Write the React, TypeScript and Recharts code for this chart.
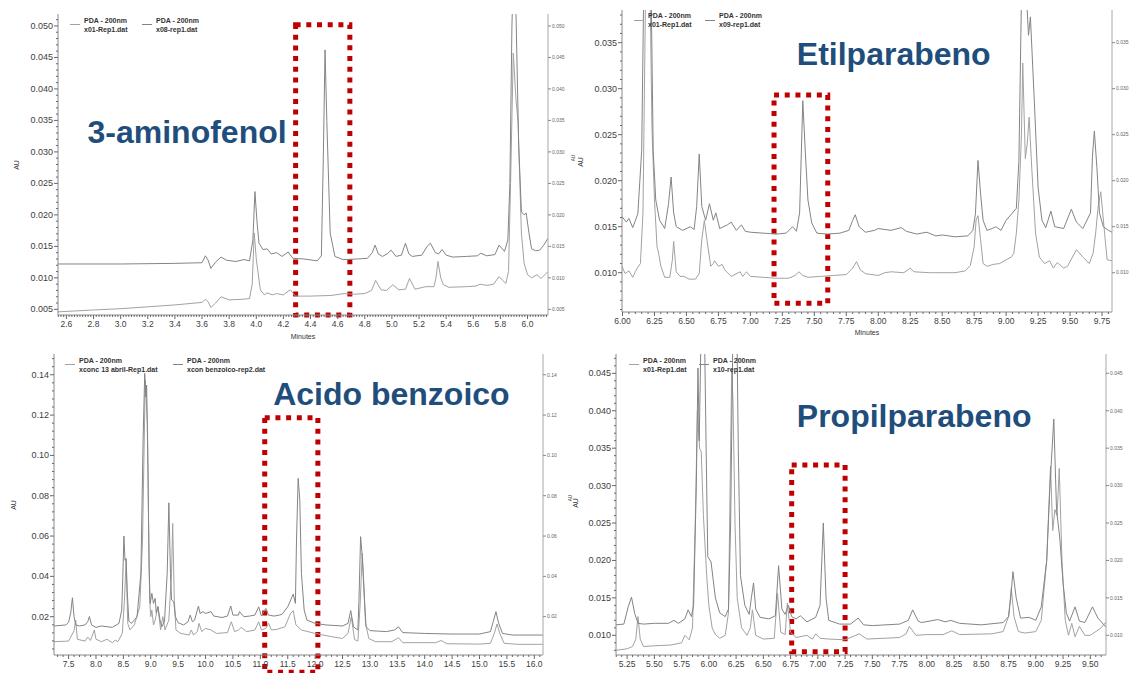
import { LineChart, Line, XAxis, YAxis, ReferenceArea, Legend } from "recharts";

type Pt = [number, number];

const FONT = '"Liberation Sans", Arial, sans-serif';
const TITLE_BLUE = "#1f4e7c";
const MARK_RED = "#c00000";
const GREY_UPPER = "#848484";
const GREY_LOWER = "#a2a2a2";
const AXIS = "#8a8a8a";
const FRAME = "#c4c4c4";

// ---------- 3-aminofenol (top left) ----------
const aminoXTicks = [2.6, 2.8, 3.0, 3.2, 3.4, 3.6, 3.8, 4.0, 4.2, 4.4, 4.6, 4.8, 5.0, 5.2, 5.4, 5.6, 5.8, 6.0];
const aminoYTicks = [0.005, 0.01, 0.015, 0.02, 0.025, 0.03, 0.035, 0.04, 0.045, 0.05];
const aminoNames = ["x01-Rep1.dat", "x08-rep1.dat"];
const aminoLower: Pt[] = [
  [2.538, 0.0046], [2.8, 0.0049], [3.0, 0.0051], [3.2, 0.0054], [3.4, 0.0057], [3.6, 0.0061], [3.625, 0.0066],
  [3.645, 0.0062], [3.665, 0.0053], [3.7, 0.006], [3.74, 0.007], [3.8, 0.0065], [3.9, 0.0066], [3.95, 0.0067],
  [3.97, 0.009], [3.985, 0.0171], [4.0, 0.013], [4.03, 0.0081], [4.06, 0.0073], [4.08, 0.0076], [4.12, 0.0073],
  [4.15, 0.0075], [4.2, 0.0073], [4.25, 0.0081], [4.29, 0.0071], [4.4, 0.0071], [4.55, 0.0072], [4.65, 0.0075],
  [4.72, 0.0074], [4.8, 0.0075], [4.85, 0.008], [4.88, 0.0096], [4.92, 0.0081], [4.96, 0.008], [5.007, 0.0089],
  [5.05, 0.0081], [5.1, 0.0082], [5.13, 0.0099], [5.17, 0.0082], [5.25, 0.0086], [5.31, 0.0086], [5.325, 0.01],
  [5.34, 0.0126], [5.36, 0.01], [5.38, 0.0089], [5.42, 0.0085], [5.55, 0.0086], [5.62, 0.0087], [5.65, 0.009],
  [5.7, 0.0088], [5.75, 0.009], [5.79, 0.0102], [5.84, 0.0091], [5.86, 0.011], [5.875, 0.025], [5.895, 0.0457],
  [5.915, 0.0383], [5.93, 0.0348], [5.955, 0.0171], [5.975, 0.0123], [6.0, 0.0105], [6.03, 0.01], [6.07, 0.0105],
  [6.1, 0.0099], [6.151, 0.011],
];
const aminoUpper: Pt[] = [
  [2.538, 0.0122], [3.0, 0.0122], [3.4, 0.0123], [3.6, 0.0124], [3.625, 0.0135], [3.645, 0.0128], [3.665, 0.0115],
  [3.7, 0.0125], [3.74, 0.0133], [3.78, 0.0128], [3.85, 0.0126], [3.91, 0.0129], [3.95, 0.0127], [3.975, 0.016],
  [3.99, 0.0237], [4.005, 0.019], [4.02, 0.0155], [4.05, 0.0145], [4.08, 0.0146], [4.11, 0.0138], [4.15, 0.014],
  [4.19, 0.0134], [4.235, 0.0141], [4.27, 0.0131], [4.35, 0.013], [4.45, 0.0127], [4.48, 0.0135], [4.495, 0.03],
  [4.507, 0.0462], [4.52, 0.035], [4.545, 0.0171], [4.58, 0.0134], [4.64, 0.0129], [4.75, 0.013], [4.82, 0.0131],
  [4.855, 0.014], [4.876, 0.0152], [4.9, 0.0138], [4.93, 0.0134], [4.965, 0.0138], [4.994, 0.0144], [5.03, 0.0134],
  [5.07, 0.0136], [5.1, 0.0155], [5.125, 0.0138], [5.15, 0.0134], [5.22, 0.0136], [5.26, 0.015], [5.284, 0.0155],
  [5.32, 0.014], [5.345, 0.0138], [5.37, 0.0145], [5.4, 0.0136], [5.45, 0.0133], [5.55, 0.0134], [5.63, 0.0135],
  [5.655, 0.0139], [5.7, 0.0135], [5.76, 0.0137], [5.79, 0.0152], [5.83, 0.0142], [5.855, 0.016], [5.87, 0.025],
  [5.885, 0.05], [5.9, 0.062], [5.915, 0.052], [5.935, 0.031], [5.955, 0.0205], [5.975, 0.02], [5.99, 0.0203],
  [6.01, 0.0172], [6.03, 0.0146], [6.06, 0.0143], [6.09, 0.0144], [6.12, 0.0152], [6.151, 0.0163],
];

// ---------- Etilparabeno (top right) ----------
const etilXTicks = [6.0, 6.25, 6.5, 6.75, 7.0, 7.25, 7.5, 7.75, 8.0, 8.25, 8.5, 8.75, 9.0, 9.25, 9.5, 9.75];
const etilYTicks = [0.01, 0.015, 0.02, 0.025, 0.03, 0.035];
const etilNames = ["x01-Rep1.dat", "x09-rep1.dat"];
const etilLower: Pt[] = [
  [5.996, 0.0107], [6.02, 0.0099], [6.05, 0.0102], [6.08, 0.0095], [6.1, 0.0101], [6.12, 0.0106], [6.14, 0.011],
  [6.16, 0.0165], [6.18, 0.04], [6.2, 0.06], [6.22, 0.036], [6.23, 0.0259], [6.25, 0.0179], [6.27, 0.0128],
  [6.28, 0.0123], [6.3, 0.0107], [6.33, 0.0095], [6.37, 0.0095], [6.39, 0.0114], [6.4, 0.0134], [6.42, 0.0101],
  [6.45, 0.0096], [6.48, 0.0096], [6.52, 0.0093], [6.57, 0.0093], [6.6, 0.0099], [6.62, 0.0136], [6.64, 0.0157],
  [6.66, 0.0136], [6.69, 0.0107], [6.71, 0.011], [6.72, 0.0113], [6.75, 0.0107], [6.78, 0.0109], [6.8, 0.0103],
  [6.85, 0.0096], [6.92, 0.0101], [6.94, 0.0096], [6.97, 0.0101], [7.0, 0.0096], [7.1, 0.0095], [7.2, 0.0094],
  [7.3, 0.0094], [7.35, 0.0097], [7.38, 0.0101], [7.41, 0.0097], [7.45, 0.0095], [7.55, 0.0096], [7.65, 0.0097],
  [7.75, 0.0098], [7.8, 0.0105], [7.83, 0.0112], [7.86, 0.0103], [7.9, 0.0099], [8.0, 0.0097], [8.05, 0.01],
  [8.1, 0.0101], [8.2, 0.01], [8.25, 0.0105], [8.28, 0.0101], [8.4, 0.01], [8.6, 0.01], [8.68, 0.0102],
  [8.72, 0.0108], [8.75, 0.0128], [8.765, 0.0157], [8.78, 0.0162], [8.8, 0.0136], [8.82, 0.011], [8.85, 0.0107],
  [8.9, 0.0109], [8.95, 0.011], [9.0, 0.0114], [9.04, 0.0117], [9.06, 0.0121], [9.08, 0.0143], [9.1, 0.0179],
  [9.12, 0.025], [9.13, 0.0328], [9.15, 0.0224], [9.165, 0.024], [9.18, 0.0269], [9.2, 0.0215], [9.23, 0.0143],
  [9.26, 0.0117], [9.3, 0.011], [9.34, 0.0113], [9.37, 0.0105], [9.4, 0.0111], [9.45, 0.0105], [9.48, 0.0107],
  [9.55, 0.0125], [9.6, 0.0117], [9.65, 0.011], [9.68, 0.0121], [9.7, 0.0143], [9.72, 0.0172], [9.74, 0.0188],
  [9.77, 0.0143], [9.79, 0.0114], [9.828, 0.0113],
];
const etilUpper: Pt[] = [
  [5.996, 0.0161], [6.03, 0.0155], [6.05, 0.0159], [6.08, 0.0149], [6.12, 0.0164], [6.15, 0.0233], [6.17, 0.045],
  [6.19, 0.06], [6.215, 0.05], [6.24, 0.0233], [6.26, 0.0179], [6.29, 0.0157], [6.33, 0.0148], [6.36, 0.0175],
  [6.38, 0.0204], [6.4, 0.0165], [6.42, 0.015], [6.47, 0.0146], [6.53, 0.015], [6.56, 0.0147], [6.58, 0.0172],
  [6.6, 0.0229], [6.62, 0.0172], [6.65, 0.0157], [6.68, 0.0175], [6.71, 0.0157], [6.73, 0.0165], [6.76, 0.0148],
  [6.82, 0.0152], [6.85, 0.0155], [6.89, 0.0146], [6.93, 0.0152], [6.96, 0.0145], [7.0, 0.0144], [7.1, 0.0143],
  [7.2, 0.0142], [7.28, 0.0143], [7.33, 0.015], [7.36, 0.0145], [7.385, 0.0165], [7.41, 0.0287], [7.43, 0.023],
  [7.45, 0.0179], [7.48, 0.0154], [7.52, 0.0143], [7.6, 0.0142], [7.7, 0.0143], [7.77, 0.0146], [7.8, 0.0157],
  [7.82, 0.0163], [7.85, 0.015], [7.9, 0.0144], [7.97, 0.0146], [8.0, 0.0148], [8.1, 0.0146], [8.18, 0.0149],
  [8.22, 0.0145], [8.3, 0.0142], [8.38, 0.0144], [8.45, 0.014], [8.5, 0.0141], [8.6, 0.0139], [8.7, 0.014],
  [8.74, 0.0146], [8.76, 0.0164], [8.78, 0.0222], [8.8, 0.0186], [8.82, 0.0157], [8.85, 0.0146], [8.89, 0.0148],
  [8.92, 0.015], [8.96, 0.0146], [9.0, 0.0157], [9.05, 0.0165], [9.08, 0.017], [9.1, 0.0222], [9.12, 0.04],
  [9.14, 0.045], [9.175, 0.0358], [9.19, 0.0378], [9.22, 0.0288], [9.25, 0.0193], [9.28, 0.0157], [9.31, 0.0149],
  [9.35, 0.0167], [9.38, 0.015], [9.45, 0.0148], [9.51, 0.0169], [9.55, 0.0155], [9.6, 0.0148], [9.66, 0.0165],
  [9.675, 0.0226], [9.69, 0.0254], [9.71, 0.0214], [9.73, 0.0165], [9.76, 0.015], [9.8, 0.0146], [9.828, 0.0144],
];

// ---------- Acido benzoico (bottom left) ----------
const benzXTicks = [7.5, 8.0, 8.5, 9.0, 9.5, 10.0, 10.5, 11.0, 11.5, 12.0, 12.5, 13.0, 13.5, 14.0, 14.5, 15.0, 15.5, 16.0];
const benzYTicks = [0.02, 0.04, 0.06, 0.08, 0.1, 0.12, 0.14];
const benzNames = ["xconc 13 abril-Rep1.dat", "xcon benzoico-rep2.dat"];
const benzLower: Pt[] = [
  [7.234, 0.0076], [7.5, 0.0079], [7.6, 0.013], [7.63, 0.0183], [7.66, 0.0088], [7.8, 0.0079], [7.85, 0.0099],
  [7.9, 0.0082], [7.97, 0.0134], [8.0, 0.0088], [8.1, 0.0076], [8.2, 0.0088], [8.3, 0.0071], [8.35, 0.0084],
  [8.4, 0.0076], [8.48, 0.0117], [8.52, 0.0282], [8.55, 0.0484], [8.58, 0.0167], [8.62, 0.0134], [8.7, 0.0159],
  [8.8, 0.025], [8.85, 0.058], [8.9, 0.1374], [8.94, 0.1159], [8.96, 0.0663], [8.98, 0.0282], [9.0, 0.02],
  [9.02, 0.0233], [9.05, 0.0159], [9.08, 0.0183], [9.13, 0.025], [9.18, 0.0134], [9.22, 0.02], [9.26, 0.0134],
  [9.33, 0.0183], [9.38, 0.0415], [9.4, 0.0663], [9.43, 0.0282], [9.46, 0.0134], [9.55, 0.0117], [9.7, 0.0109],
  [9.74, 0.0134], [9.78, 0.0109], [9.85, 0.0126], [9.88, 0.0167], [9.93, 0.0126], [10.0, 0.0142], [10.1, 0.0134],
  [10.2, 0.0117], [10.4, 0.0121], [10.47, 0.0175], [10.53, 0.0126], [10.6, 0.0134], [10.65, 0.0147],
  [10.75, 0.0126], [10.9, 0.0134], [10.97, 0.0175], [11.02, 0.0134], [11.1, 0.0142], [11.15, 0.0167],
  [11.2, 0.0134], [11.3, 0.0137], [11.45, 0.015], [11.55, 0.0216], [11.6, 0.023], [11.65, 0.0159],
  [11.75, 0.0134], [12.0, 0.0117], [12.3, 0.0101], [12.5, 0.0092], [12.6, 0.0117], [12.66, 0.02], [12.72, 0.0087],
  [12.78, 0.0079], [12.82, 0.025], [12.86, 0.0514], [12.88, 0.0415], [12.92, 0.0167], [12.98, 0.0092],
  [13.1, 0.0076], [13.4, 0.0076], [13.52, 0.0096], [13.6, 0.0071], [14.2, 0.0071], [14.3, 0.0082], [14.4, 0.0066],
  [15.0, 0.0064], [15.2, 0.0068], [15.27, 0.0117], [15.32, 0.0164], [15.37, 0.0117], [15.45, 0.0068],
  [15.7, 0.0063], [16.159, 0.0063],
];
const benzUpper: Pt[] = [
  [7.234, 0.0154], [7.45, 0.0159], [7.5, 0.0172], [7.54, 0.022], [7.57, 0.0294], [7.6, 0.02], [7.63, 0.0159],
  [7.7, 0.0154], [7.8, 0.0159], [7.85, 0.0175], [7.88, 0.0201], [7.92, 0.0159], [8.0, 0.0147], [8.1, 0.0154],
  [8.3, 0.0147], [8.42, 0.0167], [8.47, 0.0233], [8.49, 0.04], [8.51, 0.06], [8.53, 0.048], [8.55, 0.0489],
  [8.57, 0.033], [8.6, 0.0178], [8.65, 0.0167], [8.75, 0.02], [8.82, 0.0415], [8.86, 0.1076], [8.89, 0.1407],
  [8.91, 0.129], [8.925, 0.1349], [8.95, 0.0911], [8.97, 0.044], [8.99, 0.0266], [9.02, 0.0316], [9.05, 0.0266],
  [9.08, 0.0291], [9.1, 0.0219], [9.13, 0.025], [9.17, 0.0183], [9.2, 0.015], [9.25, 0.0175], [9.3, 0.0415],
  [9.33, 0.0765], [9.36, 0.0415], [9.38, 0.0283], [9.42, 0.0274], [9.45, 0.02], [9.5, 0.017], [9.6, 0.0159],
  [9.68, 0.0175], [9.72, 0.0208], [9.76, 0.0175], [9.8, 0.0183], [9.87, 0.0253], [9.9, 0.0216], [9.95, 0.0225],
  [10.0, 0.0216], [10.1, 0.0225], [10.15, 0.0203], [10.3, 0.0196], [10.4, 0.0203], [10.46, 0.0253], [10.5, 0.0208],
  [10.6, 0.0208], [10.62, 0.0225], [10.7, 0.02], [10.8, 0.0203], [10.9, 0.0208], [10.97, 0.0249], [11.02, 0.0203],
  [11.1, 0.0241], [11.15, 0.0208], [11.25, 0.0203], [11.35, 0.0208], [11.4, 0.0213], [11.5, 0.0249], [11.6, 0.0312],
  [11.64, 0.0266], [11.66, 0.058], [11.69, 0.0886], [11.72, 0.078], [11.75, 0.0415], [11.8, 0.0233],
  [11.85, 0.0183], [12.0, 0.0167], [12.2, 0.0159], [12.5, 0.0154], [12.6, 0.0167], [12.65, 0.023], [12.7, 0.015],
  [12.78, 0.0134], [12.8, 0.0282], [12.83, 0.0597], [12.86, 0.0498], [12.9, 0.0282], [12.93, 0.015], [13.0, 0.0131],
  [13.3, 0.0126], [13.45, 0.0134], [13.52, 0.015], [13.6, 0.0121], [14.0, 0.0117], [14.5, 0.0114], [15.0, 0.0114],
  [15.2, 0.0126], [15.25, 0.0175], [15.3, 0.0225], [15.35, 0.0167], [15.42, 0.0117], [15.6, 0.0109],
  [16.159, 0.0109],
];

// ---------- Propilparabeno (bottom right) ----------
const propXTicks = [5.25, 5.5, 5.75, 6.0, 6.25, 6.5, 6.75, 7.0, 7.25, 7.5, 7.75, 8.0, 8.25, 8.5, 8.75, 9.0, 9.25, 9.5];
const propYTicks = [0.01, 0.015, 0.02, 0.025, 0.03, 0.035, 0.04, 0.045];
const propNames = ["x01-Rep1.dat", "x10-rep1.dat"];
const propLower: Pt[] = [
  [5.148, 0.008], [5.25, 0.0082], [5.3, 0.0085], [5.33, 0.0095], [5.35, 0.0125], [5.37, 0.0095], [5.4, 0.0085],
  [5.5, 0.0086], [5.65, 0.0087], [5.75, 0.009], [5.78, 0.01], [5.82, 0.0094], [5.85, 0.011], [5.875, 0.025],
  [5.895, 0.04], [5.915, 0.035], [5.93, 0.0345], [5.95, 0.026], [5.98, 0.018], [6.0, 0.014], [6.03, 0.011],
  [6.06, 0.0101], [6.1, 0.0096], [6.15, 0.01], [6.18, 0.013], [6.195, 0.03], [6.21, 0.0455], [6.222, 0.041],
  [6.24, 0.025], [6.26, 0.015], [6.3, 0.011], [6.35, 0.01], [6.38, 0.011], [6.4, 0.0134], [6.43, 0.01],
  [6.5, 0.0095], [6.6, 0.0096], [6.63, 0.0156], [6.66, 0.0104], [6.7, 0.0101], [6.72, 0.0143], [6.75, 0.0104],
  [6.8, 0.0097], [6.9, 0.01], [6.95, 0.0095], [6.98, 0.0102], [7.02, 0.0096], [7.1, 0.0095], [7.25, 0.0094],
  [7.38, 0.0102], [7.45, 0.0095], [7.6, 0.0096], [7.75, 0.0097], [7.81, 0.0102], [7.84, 0.0112], [7.9, 0.01],
  [8.0, 0.0101], [8.15, 0.0101], [8.23, 0.0106], [8.3, 0.0101], [8.6, 0.0102], [8.7, 0.0105], [8.75, 0.0125],
  [8.775, 0.0163], [8.8, 0.0125], [8.84, 0.0105], [8.9, 0.0103], [9.0, 0.0105], [9.05, 0.012], [9.1, 0.02],
  [9.135, 0.0326], [9.155, 0.024], [9.175, 0.0268], [9.195, 0.026], [9.215, 0.0323], [9.24, 0.02], [9.27, 0.012],
  [9.3, 0.01], [9.33, 0.0116], [9.36, 0.0098], [9.4, 0.0112], [9.45, 0.01], [9.5, 0.01], [9.6, 0.011],
  [9.644, 0.0118],
];
const propUpper: Pt[] = [
  [5.148, 0.0114], [5.22, 0.0115], [5.26, 0.0138], [5.29, 0.0151], [5.32, 0.0129], [5.35, 0.0116], [5.4, 0.0115],
  [5.5, 0.0116], [5.63, 0.0116], [5.68, 0.012], [5.72, 0.0116], [5.78, 0.0122], [5.81, 0.0134], [5.84, 0.0125],
  [5.86, 0.014], [5.885, 0.03], [5.9, 0.0457], [5.912, 0.036], [5.93, 0.052], [5.955, 0.056], [5.975, 0.035],
  [5.99, 0.0205], [6.02, 0.0198], [6.06, 0.015], [6.1, 0.013], [6.15, 0.0125], [6.18, 0.0135], [6.2, 0.025],
  [6.225, 0.056], [6.25, 0.06], [6.27, 0.035], [6.29, 0.018], [6.33, 0.014], [6.37, 0.0128], [6.39, 0.015],
  [6.41, 0.017], [6.43, 0.0135], [6.47, 0.0124], [6.55, 0.0122], [6.61, 0.0126], [6.64, 0.0193], [6.67, 0.0135],
  [6.7, 0.0128], [6.73, 0.014], [6.76, 0.0125], [6.8, 0.0122], [6.84, 0.0126], [6.9, 0.0118], [6.98, 0.0124],
  [7.02, 0.014], [7.05, 0.025], [7.075, 0.015], [7.1, 0.012], [7.2, 0.0115], [7.3, 0.0115], [7.37, 0.0123],
  [7.42, 0.0114], [7.5, 0.0113], [7.75, 0.0115], [7.83, 0.012], [7.87, 0.0134], [7.92, 0.0119], [7.95, 0.0117],
  [8.1, 0.0121], [8.17, 0.0118], [8.22, 0.012], [8.3, 0.0116], [8.5, 0.0114], [8.7, 0.0117], [8.75, 0.0125],
  [8.77, 0.015], [8.79, 0.0185], [8.82, 0.015], [8.86, 0.0123], [8.94, 0.0124], [9.0, 0.012], [9.05, 0.0138],
  [9.1, 0.02], [9.13, 0.03], [9.165, 0.0389], [9.19, 0.0268], [9.22, 0.023], [9.25, 0.017], [9.28, 0.013],
  [9.31, 0.0119], [9.36, 0.0138], [9.4, 0.0119], [9.45, 0.0117], [9.52, 0.0138], [9.57, 0.0123], [9.644, 0.0111],
];

const rows = (pts: Pt[]) => pts.map(([t, v]) => ({ t, v }));

// tick positions on a regular grid, used for the small ruler ticks
const grid = (domain: [number, number], step: number) => {
  const out: number[] = [];
  const start = Math.ceil(domain[0] / step - 1e-9);
  const end = Math.floor(domain[1] / step + 1e-9);
  for (let i = start; i <= end; i++) out.push(+(i * step).toFixed(6));
  return out;
};
const isMajor = (majors: number[], v: number) => majors.some((m) => Math.abs(m - v) < 1e-6);

function BottomTick(props: any) {
  const { x, y, payload, majors, digits } = props;
  const major = isMajor(majors, payload.value);
  return (
    <g>
      <line x1={x} x2={x} y1={y} y2={y + (major ? 4 : 2)} stroke="#666" />
      {major && (
        <text x={x} y={y + 12} textAnchor="middle" fontSize={8.5} fill="#404040" fontFamily={FONT}>
          {payload.value.toFixed(digits)}
        </text>
      )}
    </g>
  );
}

function LeftTick(props: any) {
  const { x, y, payload, majors, digits } = props;
  const major = isMajor(majors, payload.value);
  return (
    <g>
      <line x1={x - (major ? 4 : 2)} x2={x} y1={y} y2={y} stroke="#666" />
      {major && (
        <text x={x - 5} y={y + 3} textAnchor="end" fontSize={9} fill="#404040" fontFamily={FONT}>
          {payload.value.toFixed(digits)}
        </text>
      )}
    </g>
  );
}

function PanelLegend({ payload, gap }: any) {
  return (
    <div style={{ position: "relative", fontFamily: FONT, fontSize: 7, fontWeight: 700, color: "#333", lineHeight: "9px" }}>
      {(payload || []).map((entry: any, i: number) => (
        <div key={i} style={{ position: "absolute", left: i * gap, top: 0, display: "flex", alignItems: "center", whiteSpace: "nowrap" }}>
          <span style={{ display: "inline-block", width: 10, height: 0, borderTop: `1px solid ${entry.color}`, marginRight: 4 }} />
          <div>
            <div>PDA - 200nm</div>
            <div>{entry.value}</div>
          </div>
        </div>
      ))}
    </div>
  );
}

type PanelProps = {
  box: { x0: number; x1: number; y0: number; y1: number };
  xDomain: [number, number];
  yDomain: [number, number];
  xMajor: number[];
  yMajor: number[];
  xMinor: number;
  yMinor: number;
  xDigits: number;
  yDigits: number;
  names: string[];
  lower: Pt[];
  upper: Pt[];
  mark: { x1: number; x2: number; y1: number; y2: number };
  legendAt: [number, number];
  legendGap: number;
  minutesOffset?: number;
};

function Panel(p: PanelProps) {
  const { box } = p;
  const left = box.x0 - 50;
  const top = box.y0 - 10;
  const width = box.x1 - box.x0 + 80;
  const height = box.y1 - box.y0 + 40;
  return (
    <div style={{ position: "absolute", left, top }}>
      <LineChart width={width} height={height} margin={{ top: 10, right: 10, bottom: 0, left: 10 }}>
        <XAxis
          xAxisId="bottom"
          dataKey="t"
          type="number"
          domain={p.xDomain}
          allowDataOverflow
          ticks={grid(p.xDomain, p.xMinor)}
          interval={0}
          height={30}
          tickSize={0}
          tickMargin={0}
          tickLine={false}
          axisLine={{ stroke: AXIS }}
          tick={(t: any) => <BottomTick {...t} majors={p.xMajor} digits={p.xDigits} />}
          label={
            p.minutesOffset !== undefined
              ? { value: "Minutes", position: "insideBottom", offset: p.minutesOffset, fontSize: 7, fill: "#333", fontFamily: FONT }
              : undefined
          }
        />
        <XAxis
          xAxisId="top"
          orientation="top"
          dataKey="t"
          type="number"
          domain={p.xDomain}
          allowDataOverflow
          height={0}
          tick={false}
          tickLine={false}
          axisLine={{ stroke: FRAME }}
        />
        <YAxis
          yAxisId="left"
          type="number"
          domain={p.yDomain}
          allowDataOverflow
          ticks={grid(p.yDomain, p.yMinor)}
          interval={0}
          width={40}
          tickSize={0}
          tickMargin={0}
          tickLine={false}
          axisLine={{ stroke: AXIS }}
          tick={(t: any) => <LeftTick {...t} majors={p.yMajor} digits={p.yDigits} />}
        />
        <YAxis
          yAxisId="right"
          orientation="right"
          type="number"
          domain={p.yDomain}
          allowDataOverflow
          ticks={p.yMajor}
          interval={0}
          width={20}
          tickSize={3}
          tickMargin={1}
          axisLine={{ stroke: "#a8a8a8" }}
          tickLine={{ stroke: "#888" }}
          tick={{ fontSize: 5, fill: "#666", fontFamily: FONT }}
          tickFormatter={(v: number) => v.toFixed(p.yDigits)}
        />
        <Legend
          layout="vertical"
          align="center"
          verticalAlign="middle"
          itemSorter={(item: any) => p.names.indexOf(item.value)}
          wrapperStyle={{ left: p.legendAt[0] - left, top: p.legendAt[1] - top, width: 260, height: 20 }}
          content={(lp: any) => <PanelLegend payload={lp.payload} gap={p.legendGap} />}
        />
        <Line
          xAxisId="bottom"
          yAxisId="left"
          data={rows(p.lower)}
          dataKey="v"
          name={p.names[0]}
          type="linear"
          stroke={GREY_LOWER}
          strokeWidth={1}
          dot={false}
          activeDot={false}
          isAnimationActive={false}
        />
        <Line
          xAxisId="bottom"
          yAxisId="left"
          data={rows(p.upper)}
          dataKey="v"
          name={p.names[1]}
          type="linear"
          stroke={GREY_UPPER}
          strokeWidth={1}
          dot={false}
          activeDot={false}
          isAnimationActive={false}
        />
        <ReferenceArea
          xAxisId="bottom"
          yAxisId="left"
          x1={p.mark.x1}
          x2={p.mark.x2}
          y1={p.mark.y1}
          y2={p.mark.y2}
          ifOverflow="visible"
          fill="none"
          fillOpacity={0}
          stroke={MARK_RED}
          strokeWidth={5}
          strokeDasharray="5 5.7"
        />
      </LineChart>
    </div>
  );
}

const titleStyle = (left: number, top: number): React.CSSProperties => ({
  position: "absolute",
  left,
  top,
  fontFamily: FONT,
  fontWeight: 700,
  fontSize: 32,
  lineHeight: "32px",
  color: TITLE_BLUE,
  whiteSpace: "nowrap",
});

const auStyle = (cx: number, cy: number, size = 7): React.CSSProperties => ({
  position: "absolute",
  left: cx,
  top: cy,
  transform: "translate(-50%, -50%) rotate(-90deg)",
  fontFamily: FONT,
  fontSize: size,
  color: "#333",
  lineHeight: 1,
});

export default function App() {
  return (
    <div style={{ position: "absolute", left: 0, top: 0, width: 1130, height: 673, overflow: "hidden", background: "#fff" }}>
      <Panel
        box={{ x0: 58, x1: 548, y0: 14, y1: 315 }}
        xDomain={[2.538, 6.151]}
        yDomain={[0.0041, 0.0519]}
        xMajor={aminoXTicks}
        yMajor={aminoYTicks}
        xMinor={0.02}
        yMinor={0.001}
        xDigits={1}
        yDigits={3}
        names={aminoNames}
        lower={aminoLower}
        upper={aminoUpper}
        mark={{ x1: 4.29, x2: 4.69, y1: 0.0041, y2: 0.0502 }}
        legendAt={[70, 15.5]}
        legendGap={72}
        minutesOffset={6}
      />
      <Panel
        box={{ x0: 622, x1: 1112, y0: 10, y1: 312 }}
        xDomain={[5.996, 9.828]}
        yDomain={[0.00573, 0.03855]}
        xMajor={etilXTicks}
        yMajor={etilYTicks}
        xMinor={0.05}
        yMinor={0.001}
        xDigits={2}
        yDigits={3}
        names={etilNames}
        lower={etilLower}
        upper={etilUpper}
        mark={{ x1: 7.185, x2: 7.605, y1: 0.00667, y2: 0.0293 }}
        legendAt={[634, 11.2]}
        legendGap={71}
        minutesOffset={7.5}
      />
      <Panel
        box={{ x0: 54, x1: 543, y0: 354, y1: 655 }}
        xDomain={[7.234, 16.159]}
        yDomain={[0.001, 0.1503]}
        xMajor={benzXTicks}
        yMajor={benzYTicks}
        xMinor={0.1}
        yMinor={0.004}
        xDigits={1}
        yDigits={2}
        names={benzNames}
        lower={benzLower}
        upper={benzUpper}
        mark={{ x1: 11.08, x2: 12.05, y1: -0.0075, y2: 0.1187 }}
        legendAt={[65, 355.5]}
        legendGap={108}
      />
      <Panel
        box={{ x0: 616, x1: 1106, y0: 354, y1: 655 }}
        xDomain={[5.148, 9.644]}
        yDomain={[0.00737, 0.04758]}
        xMajor={propXTicks}
        yMajor={propYTicks}
        xMinor={0.05}
        yMinor={0.001}
        xDigits={2}
        yDigits={3}
        names={propNames}
        lower={propLower}
        upper={propUpper}
        mark={{ x1: 6.76, x2: 7.25, y1: 0.00782, y2: 0.03275 }}
        legendAt={[629, 355.5]}
        legendGap={70}
      />

      <div style={titleStyle(87.5, 116.2)}>3-aminofenol</div>
      <div style={titleStyle(796.8, 37.9)}>Etilparabeno</div>
      <div style={titleStyle(273.2, 377.9)}>Acido benzoico</div>
      <div style={titleStyle(796.8, 400.2)}>Propilparabeno</div>

      <div style={auStyle(16, 165)}>AU</div>
      <div style={auStyle(574, 158, 4.5)}>AU</div>
      <div style={auStyle(580, 162)}>AU</div>
      <div style={auStyle(12.5, 505)}>AU</div>
      <div style={auStyle(571, 498, 4.5)}>AU</div>
      <div style={auStyle(575, 503)}>AU</div>
    </div>
  );
}
